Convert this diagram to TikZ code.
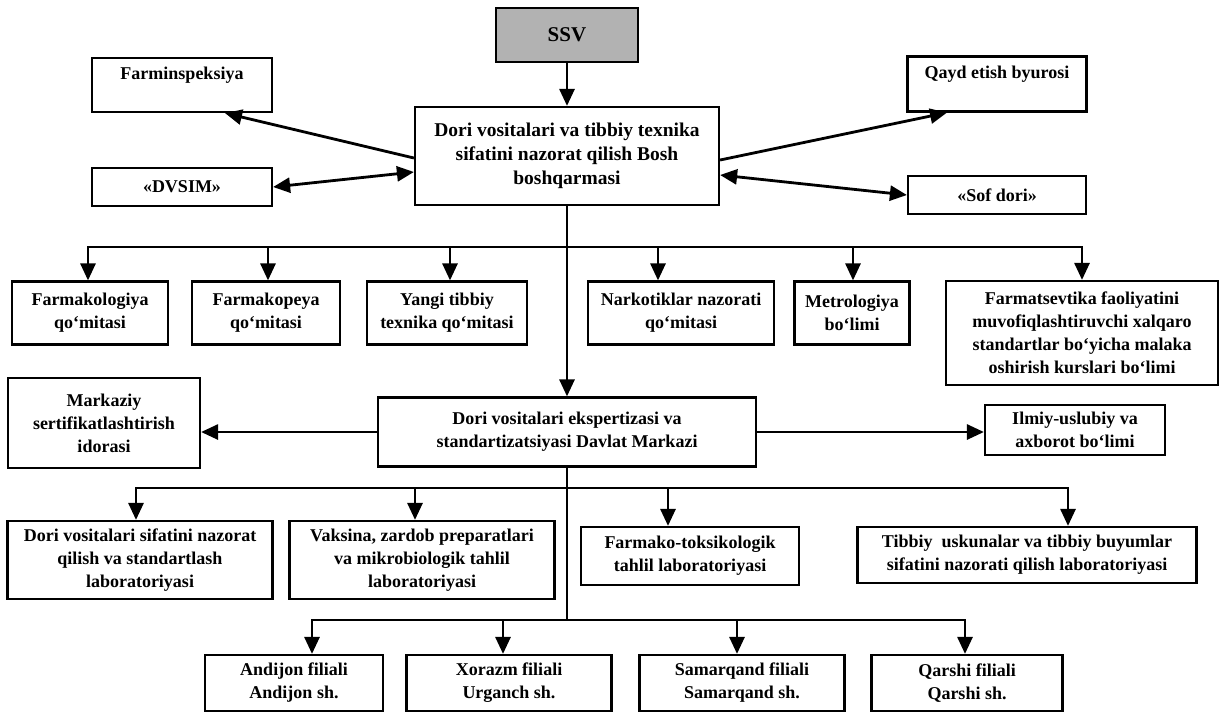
\documentclass[tikz,border=0pt]{standalone}
\usepackage{fontspec}
\setmainfont{Liberation Serif}
\usetikzlibrary{arrows.meta, positioning, calc}
\tikzstyle{box} = [rectangle, draw=black, line width=2.2pt, align=center, inner sep=2pt, font=\bfseries\fontsize{18}{23}\selectfont]
\tikzstyle{line} = [line width=2.8pt]
\tikzstyle{arr} = [line width=2.8pt, -{Triangle[length=17pt, width=15pt]}]
\tikzstyle{dbl} = [line width=2.8pt, {Triangle[length=17pt, width=15pt]}-{Triangle[length=17pt, width=15pt]}]

\begin{document}
\begin{tikzpicture}[x=1pt, y=-1pt]
\useasboundingbox (0,0) rectangle (1222,713);
% top
\node (ssv) [box, fill=gray!60, minimum width=142pt, minimum height=54pt, font=\bfseries\fontsize{21}{24}\selectfont] at (567,35) {SSV};
\node (main) [box, minimum width=304pt, minimum height=98pt, font=\bfseries\fontsize{19.5}{24}\selectfont] at (567,156) {Dori vositalari va tibbiy texnika\\ sifatini nazorat qilish Bosh\\ boshqarmasi};
\node (farm) [box, minimum width=180pt, minimum height=54pt] at (182,85) {Farminspeksiya\\ \phantom{x}};
\node (qayd) [box, minimum width=179pt, minimum height=55pt] at (997,84) {Qayd etish byurosi\\ \phantom{x}};
\node (dvsim) [box, minimum width=180pt, minimum height=38pt] at (182,187) {«DVSIM»};
\node (sof) [box, minimum width=178pt, minimum height=38pt] at (997,195) {«Sof dori»};
% row 1
\node (fkol) [box, minimum width=156pt, minimum height=63pt] at (90,313) {Farmakologiya\\ qo‘mitasi};
\node (fkop) [box, minimum width=148pt, minimum height=63pt] at (266,313) {Farmakopeya\\ qo‘mitasi};
\node (yangi) [box, minimum width=160pt, minimum height=63pt] at (447,313) {Yangi tibbiy\\ texnika qo‘mitasi};
\node (nark) [box, minimum width=186pt, minimum height=63pt] at (681,313) {Narkotiklar nazorati\\ qo‘mitasi};
\node (metr) [box, minimum width=115pt, minimum height=63pt] at (852,313) {Metrologiya\\ bo‘limi};
\node (fmts) [box, minimum width=272pt, minimum height=104pt] at (1082,333) {Farmatsevtika faoliyatini\\ muvofiqlashtiruvchi xalqaro\\ standartlar bo‘yicha malaka\\ oshirish kurslari bo‘limi};
% row 2
\node (mks) [box, minimum width=192pt, minimum height=90pt] at (104,423) {Markaziy\\ sertifikatlashtirish\\ idorasi};
\node (dm) [box, minimum width=378pt, minimum height=69pt] at (567,432) {Dori vositalari ekspertizasi va\\ standartizatsiyasi Davlat Markazi};
\node (ilm) [box, minimum width=180pt, minimum height=50pt] at (1075,430) {Ilmiy-uslubiy va\\ axborot bo‘limi};
% row 3
\node (lab1) [box, minimum width=265pt, minimum height=78pt] at (140,560) {Dori vositalari sifatini nazorat\\ qilish va standartlash\\ laboratoriyasi};
\node (lab2) [box, minimum width=265pt, minimum height=78pt] at (422,560) {Vaksina, zardob preparatlari\\ va mikrobiologik tahlil\\ laboratoriyasi};
\node (lab3) [box, minimum width=218pt, minimum height=58pt] at (690,556) {Farmako-toksikologik\\ tahlil laboratoriyasi};
\node (lab4) [box, minimum width=339pt, minimum height=56pt] at (1027,555) {Tibbiy\ \ uskunalar va tibbiy buyumlar\\ sifatini nazorati qilish laboratoriyasi};
% row 4
\node (andj) [box, minimum width=178pt, minimum height=56pt] at (294,683) {Andijon filiali\\ Andijon sh.};
\node (xor) [box, minimum width=205pt, minimum height=56pt] at (509,683) {Xorazm filiali\\ Urganch sh.};
\node (sam) [box, minimum width=205pt, minimum height=56pt] at (742,683) {Samarqand filiali\\ Samarqand sh.};
\node (qar) [box, minimum width=191pt, minimum height=56pt] at (967,683) {Qarshi filiali\\ Qarshi sh.};
% connectors at the top
\draw [arr] (ssv) -- (main);
\draw [arr] ([yshift=-2pt]main.west) -- ([xshift=43pt]farm.south);
\draw [dbl] ([yshift=-16pt]main.west) -- (dvsim.east);
\draw [arr] ([yshift=-4pt]main.east) -- ([xshift=-50pt]qayd.south);
\draw [dbl] ([yshift=-19pt]main.east) -- (sof.west);
% first bus
\coordinate (bus1) at (567,247);
\draw [line] (main.south) -- (bus1);
\draw [arr] (bus1) -| ([xshift=-2pt]fkol.north);
\draw [arr] (bus1) -| ([xshift=2pt]fkop.north);
\draw [arr] (bus1) -| ([xshift=3pt]yangi.north);
\draw [arr] (bus1) -| ([xshift=-23pt]nark.north);
\draw [arr] (bus1) -| ([xshift=1pt]metr.north);
\draw [arr] (bus1) -| (fmts.north);
\draw [arr] (main.south) -- (dm.north);
\draw [arr] (dm.west) -- (dm.west -| mks.east);
\draw [arr] (dm.east) -- (dm.east -| ilm.west);
% second and third bus
\coordinate (bus3) at (567,488);
\coordinate (bus4) at (567,620);
\draw [line] (dm.south) -- (bus4);
\draw [arr] (bus3) -| ([xshift=-4pt]lab1.north);
\draw [arr] (bus3) -| ([xshift=-7pt]lab2.north);
\draw [arr] (bus3) -| ([xshift=-22pt]lab3.north);
\draw [arr] (bus3) -| ([xshift=41pt]lab4.north);
\draw [arr] (bus4) -| ([xshift=18pt]andj.north);
\draw [arr] (bus4) -| ([xshift=-6pt]xor.north);
\draw [arr] (bus4) -| ([xshift=-5pt]sam.north);
\draw [arr] (bus4) -| ([xshift=-2pt]qar.north);
\end{tikzpicture}
\end{document}
